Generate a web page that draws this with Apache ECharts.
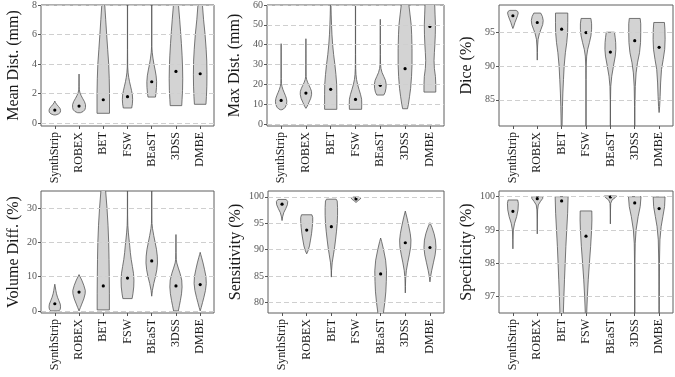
<!DOCTYPE html>
<html>
<head>
<meta charset="utf-8">
<script src="https://cdn.jsdelivr.net/npm/echarts@6/dist/echarts.min.js"></script>
<style>
html, body { margin: 0; padding: 0; background: #fff; }
#chart { width: 675px; height: 377px; }
</style>
</head>
<body>
<div id="chart"></div>
<script>
const methods = ['SynthStrip', 'ROBEX', 'BET', 'FSW', 'BEaST', '3DSS', 'DMBE'];

// violin outlines, bottom to top: [value, relative half width]
const meanDistShapes = [
  [[0.55,0.15],[0.62,0.55],[0.72,0.8],[0.85,0.85],[0.98,0.78],[1.12,0.55],[1.25,0.3],[1.38,0.1],[1.49,0]],
  [[0.7,0.2],[0.78,0.6],[0.9,0.85],[1.05,0.95],[1.25,0.95],[1.45,0.8],[1.65,0.55],[1.85,0.32],[2.05,0.14],[2.25,0.04],[2.5,0.02],[3.32,0]],
  [[0.66,0.92],[2,0.92],[3,0.88],[4,0.8],[5,0.65],[6,0.5],[7,0.36],[8,0.22],[9,0.1],[10,0]],
  [[1.02,0.62],[1.3,0.72],[1.6,0.76],[1.9,0.72],[2.2,0.6],[2.5,0.45],[2.8,0.3],[3.1,0.18],[3.4,0.09],[3.8,0.03],[5,0.015],[10,0.015]],
  [[1.76,0.55],[2.0,0.62],[2.4,0.7],[2.8,0.72],[3.2,0.65],[3.6,0.5],[4.0,0.32],[4.4,0.18],[4.8,0.07],[5.2,0.02],[10,0.015]],
  [[1.18,0.85],[1.6,0.9],[2.2,0.97],[3,1],[3.8,0.97],[4.6,0.9],[5.4,0.8],[6.2,0.68],[7,0.55],[8,0.37],[9,0.2],[10,0.05]],
  [[1.27,0.85],[1.8,0.92],[2.5,0.98],[3.3,1],[4.2,0.97],[5,0.88],[6,0.72],[7,0.5],[8,0.33],[9,0.18],[10,0.05]]
];
const meanDistMedians = [0.88, 1.15, 1.58, 1.79, 2.8, 3.5, 3.34];

const maxDistShapes = [
  [[7.2,0.1],[7.6,0.35],[8.5,0.6],[10,0.78],[11.5,0.82],[13,0.75],[14.5,0.6],[16,0.42],[17.5,0.25],[19,0.12],[20.5,0.05],[23,0.02],[40.5,0]],
  [[7.9,0],[9,0.2],[11,0.45],[13,0.7],[15,0.82],[16.5,0.8],[18,0.65],[19.5,0.45],[21,0.25],[22.5,0.1],[24,0.03],[30,0.015],[43,0]],
  [[7.4,0.88],[15,0.88],[20,0.86],[25,0.75],[30,0.6],[35,0.42],[40,0.28],[45,0.18],[50,0.12],[55,0.07],[60,0.04],[63,0]],
  [[7.4,0.88],[10,0.9],[12.5,0.88],[15,0.72],[17.5,0.5],[20,0.3],[22.5,0.15],[25,0.07],[28,0.03],[35,0.015],[63,0.015]],
  [[14.6,0.5],[16,0.7],[18,0.82],[20,0.85],[22,0.75],[24,0.5],[26,0.25],[28,0.1],[30,0.04],[35,0.015],[52.8,0]],
  [[7.7,0.35],[10,0.48],[14,0.65],[18,0.8],[24,0.93],[30,1],[38,1],[45,0.95],[50,0.88],[55,0.72],[60,0.55],[63,0.45]],
  [[16.1,0.85],[20,0.85],[24,0.8],[28,0.65],[32,0.6],[36,0.65],[40,0.72],[45,0.78],[50,0.8],[55,0.75],[60,0.7],[63,0.65]]
];
const maxDistMedians = [11.9, 15.6, 17.5, 12.4, 19.5, 27.9, 49.2];

const diceShapes = [
  [[95.6,0],[96.0,0.15],[96.5,0.3],[97.0,0.5],[97.5,0.68],[97.9,0.78],[98.15,0.7],[98.3,0.45]],
  [[90.9,0],[92,0.02],[93,0.05],[94,0.12],[94.8,0.3],[95.5,0.55],[96.2,0.8],[96.8,0.87],[97.4,0.75],[97.9,0.5]],
  [[78,0.03],[81,0.06],[84,0.12],[86,0.18],[88,0.27],[90,0.37],[92,0.55],[93.5,0.75],[95,0.88],[96.5,0.9],[97.9,0.9]],
  [[78,0.015],[88,0.015],[90,0.03],[91.5,0.1],[92.5,0.25],[93.5,0.5],[94.5,0.72],[95.5,0.82],[96.3,0.82],[97.1,0.72]],
  [[78,0.015],[85,0.02],[87,0.06],[88.5,0.2],[90,0.45],[91.5,0.72],[92.5,0.8],[93.5,0.78],[94.3,0.7],[95.05,0.6]],
  [[78,0.015],[84,0.03],[87,0.08],[89,0.2],[90.5,0.4],[92,0.7],[93.5,0.85],[95,0.88],[96.3,0.88],[97.1,0.8]],
  [[83.1,0],[84,0.08],[85.5,0.15],[87.5,0.22],[89.5,0.35],[91,0.6],[92.5,0.82],[94,0.88],[95.5,0.85],[96.5,0.78]]
];
const diceMedians = [97.5, 96.5, 95.5, 95.0, 92.1, 93.8, 92.8];

const volDiffShapes = [
  [[0,0.6],[0.5,0.8],[1.2,0.85],[2,0.8],[3,0.6],[4,0.4],[5,0.25],[6,0.15],[7,0.07],[7.8,0]],
  [[0,0],[1,0.2],[2,0.4],[3.5,0.7],[5,0.9],[6,0.92],[7.5,0.7],[9,0.4],[10,0.15],[10.6,0]],
  [[0.3,0.9],[5,0.9],[10,0.88],[15,0.85],[20,0.8],[25,0.7],[30,0.55],[35,0.35],[38,0.2],[40,0]],
  [[3.6,0.68],[5,0.8],[7,0.92],[9,0.95],[11,0.88],[13,0.72],[15,0.55],[17,0.42],[19,0.33],[21,0.22],[23,0.12],[25,0.05],[28,0.02],[36,0.015]],
  [[4.3,0],[6,0.1],[8,0.3],[10,0.55],[12,0.75],[14,0.85],[16,0.82],[18,0.7],[20,0.5],[22,0.3],[24,0.12],[25.5,0.04],[28,0.02],[36,0.015]],
  [[0,0.35],[1.5,0.5],[3,0.65],[5,0.82],[7,0.9],[9,0.85],[11,0.6],[12.5,0.35],[14,0.12],[15,0.05],[17,0.02],[22.3,0]],
  [[0,0],[1,0.15],[2.5,0.35],[4,0.55],[6,0.78],[8,0.9],[10,0.85],[12,0.65],[14,0.42],[15.5,0.22],[16.5,0.08],[17.1,0]]
];
const volDiffMedians = [2.1, 5.5, 7.3, 9.6, 14.6, 7.3, 7.7];

const sensShapes = [
  [[95.5,0],[96.2,0.08],[97,0.25],[97.8,0.55],[98.5,0.78],[99.1,0.82],[99.5,0.6]],
  [[89.2,0],[89.8,0.2],[90.7,0.4],[91.8,0.55],[93,0.7],[94.2,0.8],[95.3,0.87],[96.1,0.87],[96.6,0.75]],
  [[84.8,0],[86,0.03],[87.5,0.12],[89,0.3],[90.5,0.48],[92,0.62],[93.5,0.75],[95,0.85],[96.5,0.9],[98,0.9],[99.2,0.85],[99.55,0.7]],
  [[98.9,0],[99.2,0.2],[99.5,0.55],[99.75,0.7],[99.95,0.4]],
  [[76,0.2],[78,0.4],[80,0.6],[82,0.75],[84,0.82],[86,0.85],[88,0.72],[90,0.42],[91.5,0.15],[92.2,0]],
  [[81.8,0],[83,0.02],[84.5,0.05],[86,0.15],[87.5,0.35],[89,0.58],[90.5,0.78],[91.8,0.82],[93,0.72],[94.5,0.5],[96,0.25],[97.3,0]],
  [[83.9,0],[84.8,0.08],[86,0.25],[87.5,0.5],[89,0.75],[90.4,0.87],[91.8,0.8],[93,0.6],[94.2,0.3],[95.1,0]]
];
const sensMedians = [98.6, 93.7, 94.35, 99.6, 85.4, 91.3, 90.4];

const specShapes = [
  [[98.43,0],[98.7,0.02],[99.0,0.07],[99.2,0.25],[99.4,0.55],[99.6,0.75],[99.8,0.8],[99.9,0.7]],
  [[98.88,0],[99.3,0.02],[99.6,0.05],[99.75,0.15],[99.85,0.45],[99.95,0.8],[100,0.8]],
  [[96,0.18],[96.5,0.25],[97,0.33],[97.5,0.42],[98,0.52],[98.5,0.62],[99,0.75],[99.5,0.88],[100,0.95]],
  [[96,0.05],[96.5,0.1],[97,0.2],[97.5,0.33],[98,0.5],[98.5,0.68],[99,0.82],[99.3,0.87],[99.57,0.85]],
  [[99.18,0],[99.6,0.02],[99.8,0.05],[99.9,0.25],[99.97,0.7],[100.02,0.9]],
  [[96,0.015],[98,0.03],[98.6,0.07],[99,0.2],[99.4,0.5],[99.7,0.8],[100,0.92]],
  [[96,0.02],[98,0.05],[98.7,0.12],[99.1,0.3],[99.4,0.55],[99.7,0.8],[99.99,0.87]]
];
const specMedians = [99.56, 99.94, 99.87, 98.81, 99.99, 99.81, 99.64];

const meanDistTicks = [0, 2, 4, 6, 8];
const maxDistTicks = [0, 10, 20, 30, 40, 50, 60];
const diceTicks = [85, 90, 95];
const volDiffTicks = [0, 10, 20, 30];
const sensTicks = [80, 85, 90, 95, 100];
const specTicks = [97, 98, 99, 100];

const panels = [
  { name: 'Mean Dist. (mm)', shapes: meanDistShapes, medians: meanDistMedians, ticks: meanDistTicks, min: -0.2, max: 8, gap: 19,
    grid: { left: 41, top: 5, width: 173, height: 121 } },
  { name: 'Max Dist. (mm)', shapes: maxDistShapes, medians: maxDistMedians, ticks: maxDistTicks, min: -1, max: 60, gap: 24,
    grid: { left: 267, top: 5, width: 177, height: 121 } },
  { name: 'Dice (%)', shapes: diceShapes, medians: diceMedians, ticks: diceTicks, min: 81.1, max: 99.1, gap: 24,
    grid: { left: 499, top: 5, width: 174, height: 121 } },
  { name: 'Volume Diff. (%)', shapes: volDiffShapes, medians: volDiffMedians, ticks: volDiffTicks, min: -0.6, max: 35, gap: 19,
    grid: { left: 41, top: 191, width: 173, height: 122 } },
  { name: 'Sensitivity (%)', shapes: sensShapes, medians: sensMedians, ticks: sensTicks, min: 78, max: 101.1, gap: 24,
    grid: { left: 268, top: 191, width: 176, height: 122 } },
  { name: 'Specificity (%)', shapes: specShapes, medians: specMedians, ticks: specTicks, min: 96.5, max: 100.17, gap: 24,
    grid: { left: 499, top: 191, width: 174, height: 122 } }
];

const HALF = 0.28; // max half width of a violin, in category units
const serif = 'Liberation Serif';

function violin(shapes, medians) {
  return function (params, api) {
    const i = params.dataIndex;
    const prof = shapes[i];
    const right = prof.map(p => api.coord([i + p[1] * HALF, p[0]]));
    const left = prof.slice().reverse().map(p => api.coord([i - p[1] * HALF, p[0]]));
    const c = api.coord([i, medians[i]]);
    return {
      type: 'group',
      children: [
        { type: 'polygon', shape: { points: right.concat(left) },
          style: { fill: '#d3d3d3', stroke: '#555', lineWidth: 0.8 } },
        { type: 'circle', shape: { cx: c[0], cy: c[1], r: 1.6 }, style: { fill: '#000' } }
      ]
    };
  };
}

const grid = [], xAxis = [], yAxis = [], series = [];
panels.forEach((p, k) => {
  grid.push(Object.assign({ show: true, borderColor: '#5e5e5e', borderWidth: 1, backgroundColor: 'transparent' }, p.grid));
  xAxis.push({
    type: 'value', gridIndex: k, min: -0.57, max: 6.57,
    splitLine: { show: false },
    axisLine: { show: false, onZero: false },
    axisTick: { show: true, length: 3, customValues: [0, 1, 2, 3, 4, 5, 6], lineStyle: { color: '#555' } },
    axisLabel: {
      customValues: [0, 1, 2, 3, 4, 5, 6], rotate: 90, margin: 6,
      formatter: v => methods[Math.round(v)],
      fontFamily: serif, fontSize: 12, color: '#1a1a1a'
    }
  });
  yAxis.push({
    type: 'value', gridIndex: k, min: p.min, max: p.max,
    name: p.name, nameLocation: 'middle', nameGap: p.gap,
    nameTextStyle: { fontFamily: serif, fontSize: 16, color: '#1a1a1a' },
    splitLine: { show: false },
    axisLine: { show: false, onZero: false },
    axisTick: { show: true, length: 3, customValues: p.ticks, lineStyle: { color: '#555' } },
    axisLabel: { customValues: p.ticks, fontFamily: serif, fontSize: 10, color: '#555', margin: 4 }
  });
  series.push({
    type: 'line', xAxisIndex: k, yAxisIndex: k, data: [], silent: true, z: 1,
    markLine: {
      silent: true, symbol: 'none', label: { show: false },
      lineStyle: { color: '#cfcfcf', type: [5, 3], width: 1 },
      data: p.ticks.map(t => ({ yAxis: t }))
    }
  });
  series.push({
    type: 'custom', xAxisIndex: k, yAxisIndex: k, clip: true, z: 3,
    renderItem: violin(p.shapes, p.medians),
    encode: { x: 0, y: 1 },
    data: methods.map((m, i) => [i, p.medians[i]])
  });
});

const chart = echarts.init(document.getElementById('chart'), null, { renderer: 'canvas' });
chart.setOption({ animation: false, grid, xAxis, yAxis, series });
</script>
</body>
</html>
